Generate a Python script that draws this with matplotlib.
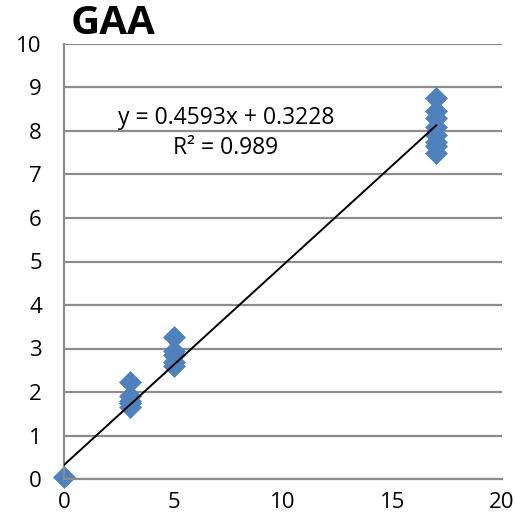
import matplotlib
matplotlib.use("Agg")
import matplotlib.pyplot as plt

# Concentration levels and the replicate readings at each level
conc_x = [0, 3, 3, 3, 3, 3, 5, 5, 5, 5, 5,
          17, 17, 17, 17, 17, 17, 17, 17]
signal_y = [0.05, 2.22, 1.90, 1.80, 1.75, 1.65, 3.26, 2.95, 2.85, 2.70, 2.60,
            8.76, 8.45, 8.30, 8.10, 7.90, 7.75, 7.65, 7.50]

# Linear trendline as reported on the chart
slope = 0.4593
intercept = 0.3228
r_squared = 0.989
fit_x = [0, 17]

x_ticks = [0, 5, 10, 15, 20]
y_ticks = list(range(0, 11))

plt.rcParams["font.family"] = ["Open Sans", "DejaVu Sans"]

fig = plt.figure(figsize=(5.15, 5.26), dpi=100)
ax = fig.add_axes([64 / 515, 1 - 479 / 526, 438 / 515, 435 / 526])

ax.set_xlim(0, 20)
ax.set_ylim(0, 10)
ax.set_xticks(x_ticks)
ax.set_yticks(y_ticks)
ax.tick_params(length=0, labelsize=16, colors="black")
ax.tick_params(axis="y", pad=16)
ax.tick_params(axis="x", pad=9)
ax.yaxis.grid(True, color="#8c8c8c", lw=1.6)
ax.set_axisbelow(True)
for side in ("top", "right"):
    ax.spines[side].set_visible(False)
for side in ("left", "bottom"):
    ax.spines[side].set_color("#8c8c8c")
    ax.spines[side].set_linewidth(1.6)

ax.plot(fit_x, [slope * v + intercept for v in fit_x], color="black", lw=1.4, zorder=3)
ax.scatter(conc_x, signal_y, marker="D", s=125, color="#4f81bd", edgecolors="#4f81bd",
           linewidths=0.5, zorder=2, clip_on=False)

ax.text(7.4, 8.30, f"y = {slope}x + {intercept}", ha="center", va="center", fontsize=16.5)
ax.text(7.4, 7.60, f"R² = {r_squared}", ha="center", va="center", fontsize=16.5)

fig.text(71 / 515, 1 - 24 / 526, "GAA", ha="left", va="center", fontsize=29, fontweight="bold")

fig.savefig("out.png", dpi=100)
